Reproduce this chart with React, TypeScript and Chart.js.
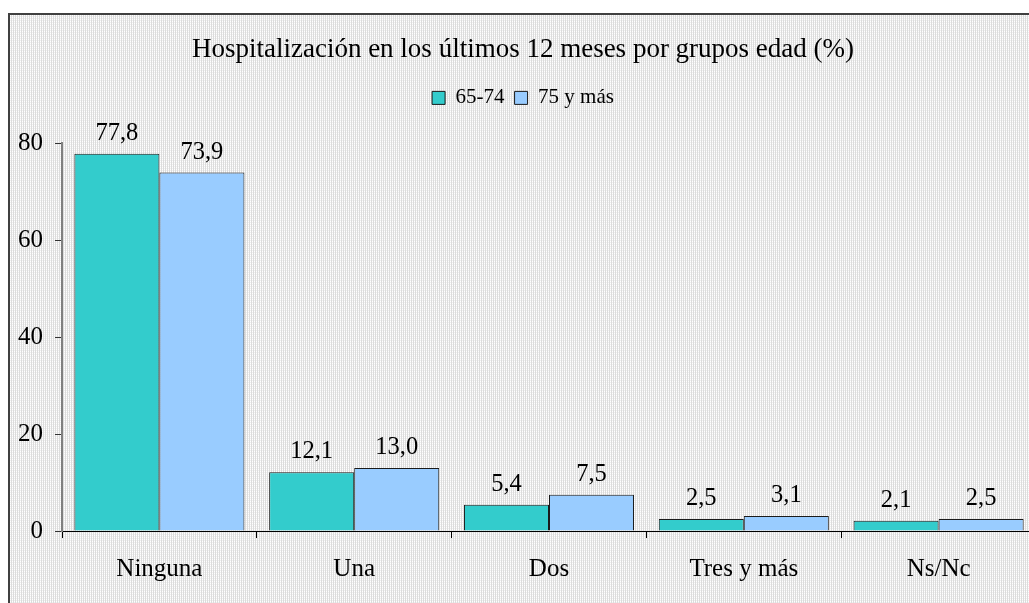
import React, { useEffect, useRef } from "react";
import { Chart, registerables } from "chart.js";

Chart.register(...registerables);

const categories = ["Ninguna", "Una", "Dos", "Tres y más", "Ns/Nc"];
const serie6574 = [77.8, 12.1, 5.4, 2.5, 2.1];
const serie75mas = [73.9, 13.0, 7.5, 3.1, 2.5];
const seriesNames = ["65-74", "75 y más"];
const yTicks = [0, 20, 40, 60, 80];
const titleText = "Hospitalización en los últimos 12 meses por grupos edad (%)";

const FONT = "'Liberation Serif', 'Times New Roman', serif";

function makePattern(): CanvasPattern | string {
  const p = document.createElement("canvas");
  p.width = 2;
  p.height = 2;
  const c = p.getContext("2d");
  if (!c) return "#eeeeee";
  c.fillStyle = "#dcdcdc";
  c.fillRect(0, 0, 2, 2);
  c.fillStyle = "#ffffff";
  c.fillRect(0, 0, 1, 1);
  c.fillStyle = "#f0f0f0";
  c.fillRect(0, 1, 1, 1);
  const pat = c.createPattern(p, "repeat");
  return pat || "#eeeeee";
}

const bgPlugin = {
  id: "bgPattern",
  beforeDraw(chart: any) {
    const ctx = chart.ctx;
    ctx.save();
    ctx.fillStyle = makePattern();
    ctx.fillRect(0, 0, chart.width, chart.height);
    ctx.restore();
  },
};

const labelPlugin = {
  id: "valueLabels",
  afterDatasetsDraw(chart: any) {
    const ctx = chart.ctx;
    ctx.save();
    ctx.font = `24.5px ${FONT}`;
    ctx.fillStyle = "#000";
    ctx.textAlign = "center";
    ctx.textBaseline = "alphabetic";
    chart.data.datasets.forEach((ds: any, di: number) => {
      const meta = chart.getDatasetMeta(di);
      meta.data.forEach((bar: any, i: number) => {
        const v = ds.data[i] as number;
        const txt = v.toFixed(1).replace(".", ",");
        ctx.fillText(txt, bar.x, bar.y - 14);
      });
    });
    ctx.restore();
  },
};

export default function App() {
  const ref = useRef<HTMLCanvasElement | null>(null);

  useEffect(() => {
    document.body.style.overflow = "hidden";
    if (!ref.current) return;
    const chart = new Chart(ref.current, {
      type: "bar",
      data: {
        labels: categories,
        datasets: [
          {
            label: seriesNames[0],
            data: serie6574,
            backgroundColor: "#33CCCC",
            borderColor: "#1a1a1a",
            borderWidth: 1,
            categoryPercentage: 0.873,
            barPercentage: 1.0,
          },
          {
            label: seriesNames[1],
            data: serie75mas,
            backgroundColor: "#99CCFF",
            borderColor: "#1a1a1a",
            borderWidth: 1,
            categoryPercentage: 0.873,
            barPercentage: 1.0,
          },
        ],
      },
      options: {
        animation: false,
        responsive: false,
        maintainAspectRatio: false,
        layout: { padding: { left: 0, right: 9, top: 0, bottom: 0 } },
        plugins: {
          title: {
            display: true,
            text: titleText,
            color: "#000",
            font: { family: FONT, size: 27, weight: "normal" },
            padding: { top: 19, bottom: 11 },
          },
          legend: {
            display: true,
            position: "top",
            labels: {
              color: "#000",
              font: { family: FONT, size: 21 },
              boxWidth: 13,
              boxHeight: 13,
              padding: 10,
            },
          },
          tooltip: { enabled: false },
        },
        scales: {
          x: {
            type: "category",
            position: "bottom",
            offset: true,
            grid: {
              display: true,
              offset: true,
              drawOnChartArea: false,
              drawTicks: true,
              tickLength: 7,
              color: "#000",
            },
            border: { display: true, color: "#000", width: 1 },
            ticks: {
              color: "#000",
              font: { family: FONT, size: 25 },
              padding: 16,
              maxRotation: 0,
              autoSkip: false,
            },
            afterFit(scale: any) {
              scale.height = 72;
            },
          },
          xTop: {
            type: "category",
            position: "top",
            display: true,
            grid: { display: false },
            border: { display: false },
            ticks: { display: false },
            afterFit(scale: any) {
              scale.height = 24.6;
            },
          },
          y: {
            type: "linear",
            min: 0,
            max: 80,
            afterBuildTicks(scale: any) {
              scale.ticks = yTicks.map((v) => ({ value: v }));
            },
            grid: {
              display: true,
              drawOnChartArea: false,
              drawTicks: true,
              tickLength: 7,
              color: "#333",
            },
            border: { display: true, color: "#808080", width: 2 },
            ticks: {
              color: "#000",
              font: { family: FONT, size: 25 },
              padding: 12,
            },
            afterFit(scale: any) {
              scale.width = 52;
            },
          },
        },
      } as any,
      plugins: [bgPlugin, labelPlugin],
    });
    return () => chart.destroy();
  }, []);

  return (
    <div
      style={{
        position: "fixed",
        left: 8,
        top: 13,
        width: 1021,
        height: 590,
        overflow: "hidden",
        borderTop: "2px solid #404040",
        borderLeft: "2px solid #404040",
        background: "#eeeeee",
      }}
    >
      <canvas ref={ref} width={1035} height={588} style={{ display: "block" }} />
    </div>
  );
}
